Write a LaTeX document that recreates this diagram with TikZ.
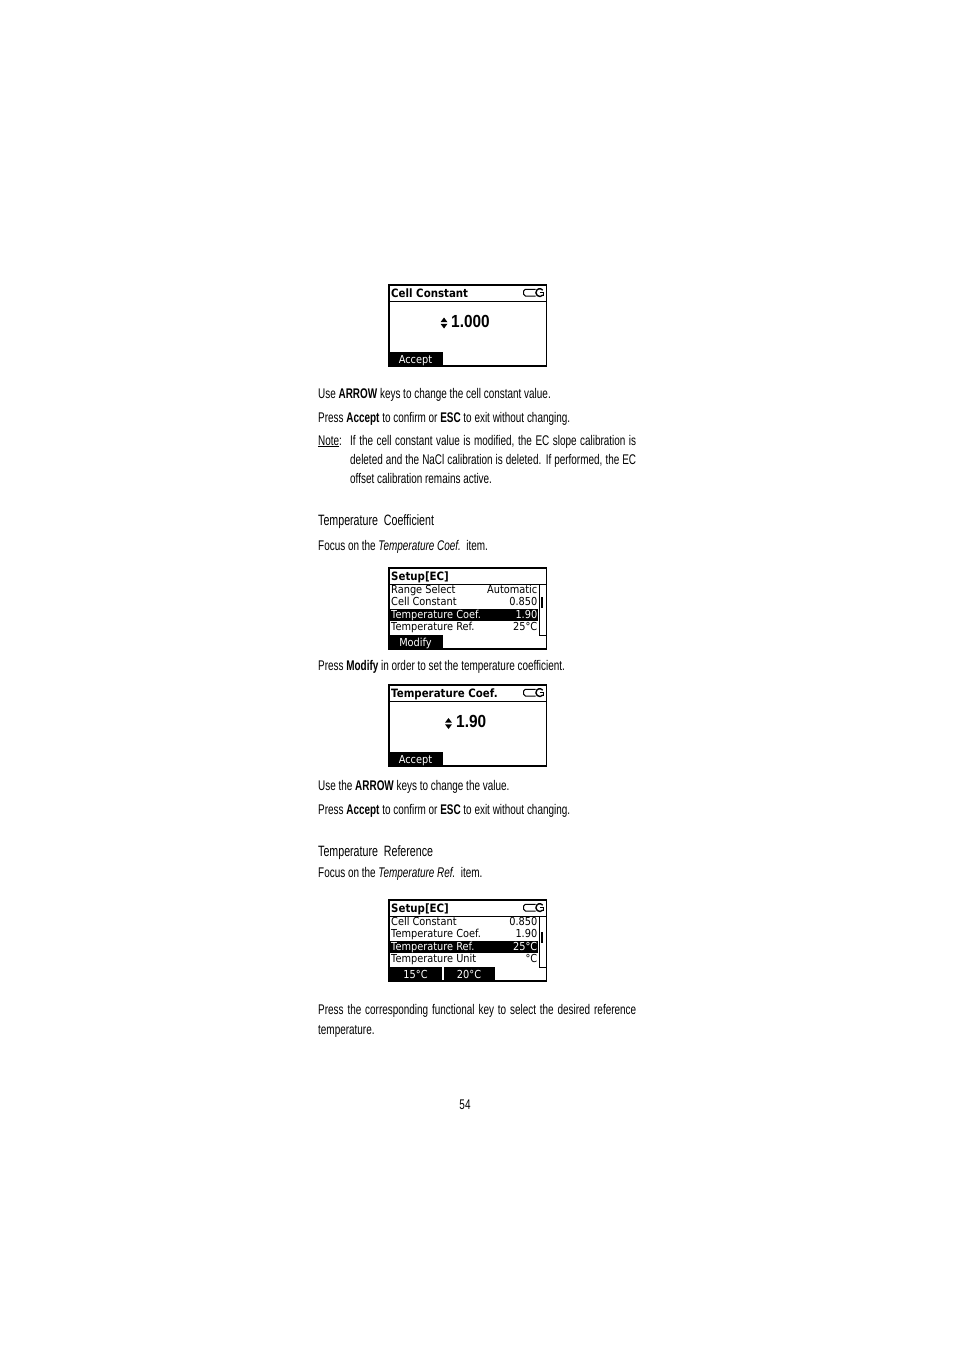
\documentclass[tikz,border=0pt]{standalone}
\usepackage{fontspec}
\setmainfont{Liberation Sans}[FakeStretch=0.71]
\newfontfamily\lcdfont{DejaVu Sans}[FakeStretch=0.89]
\newfontfamily\valfont{Liberation Sans}[FakeStretch=0.88]

\newcommand{\lcdframe}[2]{
	\pgfmathsetmacro{\LFtop}{#2}
	\pgfmathsetmacro{\LFsep}{#2+16}
	\pgfmathsetmacro{\LFbot}{#2+81}
	\draw[lcdline] (389,\LFtop) rectangle (546.5,\LFbot);
	\draw[line width=1pt] (389,\LFsep) -- (546.5,\LFsep);
	\coordinate (#1) at (389,\LFtop);
}

\newcommand{\plugicon}[1]{
	\pgfmathsetmacro{\PIa}{#1+4.3}
	\pgfmathsetmacro{\PIb}{#1+11}
	\pgfmathsetmacro{\PIc}{#1+7.6}
	\draw[line width=1pt, rounded corners=1.8pt] (535.5,\PIa) -- (523.5,\PIa) -- (523.5,\PIb) -- (535.5,\PIb);
	\draw[line width=1.4pt] (539.8,\PIc) ++(40:3.9) arc (40:320:3.9);
	\draw[line width=1.4pt] (539.8,\PIc) -- (543.4,\PIc) -- (543.4,\PIb);
}

\newcommand{\updn}[2]{
	\pgfmathsetmacro{\UDxa}{#1}
	\pgfmathsetmacro{\UDxb}{#1+7}
	\pgfmathsetmacro{\UDxc}{#1+3.5}
	\pgfmathsetmacro{\UDya}{#2-0.8}
	\pgfmathsetmacro{\UDyb}{#2+0.8}
	\fill (\UDxa,\UDya) -- (\UDxb,\UDya) -- (\UDxc,#2-5.5) -- cycle;
	\fill (\UDxa,\UDyb) -- (\UDxb,\UDyb) -- (\UDxc,#2+5.5) -- cycle;
}

\newcommand{\lcdscroll}[2]{
	\draw[line width=0.9pt] (539,#1+16) -- (539,#1+67) -- (546,#1+67);
	\fill (540.8,#2) rectangle (543.4,#2+11);
}

\tikzset{
	bodytext/.style={anchor=base west, inner sep=0pt, font=\fontsize{14}{19}\selectfont},
	headtext/.style={anchor=base west, inner sep=0pt, font=\fontsize{15}{19}\selectfont},
	lcdtitle/.style={anchor=base west, inner sep=0pt, font=\lcdfont\bfseries\fontsize{11.5}{12}\selectfont},
	lcdrow/.style={anchor=base west, inner sep=0pt, font=\lcdfont\fontsize{11}{12}\selectfont},
	lcdnum/.style={lcdrow, anchor=base east},
	tabtext/.style={anchor=base, inner sep=0pt, text=white, font=\lcdfont\fontsize{11}{12}\selectfont},
	bigval/.style={anchor=base west, inner sep=0pt, font=\valfont\bfseries\fontsize{17.5}{20}\selectfont},
	lcdline/.style={line width=1.9pt},
}

\begin{document}
\begin{tikzpicture}[x=1pt, y=-1pt]
\fill[white] (0,0) rectangle (954,1351);
\useasboundingbox (0,0) rectangle (954,1351);

% screen: cell constant
\fill (389,352) rectangle (443,366);
\lcdframe{scrA}{285}
\plugicon{285}
\node[lcdtitle] (scrAtitle) at (391,297) {Cell Constant};
\node[bigval] (scrAval) at (451,327) {1.000};
\updn{440.5}{323}
\node[tabtext] (scrAtab) at (415.5,363) {Accept};

\node[bodytext] (useA) at (318,398) {Use \textbf{ARROW} keys to change the cell constant value.};
\node[bodytext] (pressA) at (318,422) {Press \textbf{Accept} to confirm or \textbf{ESC} to exit without changing.};
\node[bodytext] (note) at (318,445) {\underline{Note}:};
\node[bodytext] (noteA) at (350,445) {\makebox[286pt][s]{If the cell constant value is modified, the EC slope calibration is}};
\node[bodytext] (noteB) at (350,464) {\makebox[286pt][s]{deleted and the NaCl calibration is deleted. If performed, the EC}};
\node[bodytext] (noteC) at (350,483) {offset calibration remains active.};

\node[headtext] (headA) at (318,525) {Temperature\ \ Coefficient};
\node[bodytext] (focusA) at (318,550) {Focus on the \textit{Temperature Coef.}\ \ item.};

% screen: setup, coefficient selected
\fill (389,609) rectangle (537.5,621);
\fill (389,635) rectangle (443,649);
\lcdframe{scrB}{568}
\lcdscroll{568}{597}
\node[lcdtitle] (scrBtitle) at (391,580) {Setup[EC]};
\node[lcdrow] (scrBa) at (391,593) {Range Select};
\node[lcdnum] (scrBav) at (537.5,593) {Automatic};
\node[lcdrow] (scrBb) at (391,605.5) {Cell Constant};
\node[lcdnum] (scrBbv) at (537.5,605.5) {0.850};
\node[lcdrow, text=white] (scrBc) at (391,618) {Temperature Coef.};
\node[lcdnum, text=white] (scrBcv) at (537.5,618) {1.90};
\node[lcdrow] (scrBd) at (391,630.5) {Temperature Ref.};
\node[lcdnum] (scrBdv) at (537.5,630.5) {25°C};
\node[tabtext] (scrBtab) at (415.5,646) {Modify};

\node[bodytext] (pressB) at (318,670) {Press \textbf{Modify} in order to set the temperature coefficient.};

% screen: temperature coefficient
\fill (389,752) rectangle (443,766);
\lcdframe{scrC}{685}
\plugicon{685}
\node[lcdtitle] (scrCtitle) at (391,697) {Temperature Coef.};
\node[bigval] (scrCval) at (456,727.5) {1.90};
\updn{445}{723.5}
\node[tabtext] (scrCtab) at (415.5,763) {Accept};

\node[bodytext] (useC) at (318,790) {Use the \textbf{ARROW} keys to change the value.};
\node[bodytext] (pressC) at (318,814) {Press \textbf{Accept} to confirm or \textbf{ESC} to exit without changing.};

\node[headtext] (headB) at (318,856) {Temperature\ \ Reference};
\node[bodytext] (focusB) at (318,877) {Focus on the \textit{Temperature Ref.}\ \ item.};

% screen: setup, reference selected
\fill (389,941) rectangle (537.5,953);
\fill (389,967) rectangle (442,981);
\fill (443.5,967) rectangle (495,981);
\lcdframe{scrD}{900}
\plugicon{900}
\lcdscroll{900}{932}
\node[lcdtitle] (scrDtitle) at (391,912) {Setup[EC]};
\node[lcdrow] (scrDa) at (391,925) {Cell Constant};
\node[lcdnum] (scrDav) at (537.5,925) {0.850};
\node[lcdrow] (scrDb) at (391,937.5) {Temperature Coef.};
\node[lcdnum] (scrDbv) at (537.5,937.5) {1.90};
\node[lcdrow, text=white] (scrDc) at (391,950) {Temperature Ref.};
\node[lcdnum, text=white] (scrDcv) at (537.5,950) {25°C};
\node[lcdrow] (scrDd) at (391,962.5) {Temperature Unit};
\node[lcdnum] (scrDdv) at (537.5,962.5) {°C};
\node[tabtext] (scrDtabA) at (415.5,978) {15°C};
\node[tabtext] (scrDtabB) at (469,978) {20°C};

\node[bodytext] (pressD) at (318,1014) {\makebox[318pt][s]{Press the corresponding functional key to select the desired reference}};
\node[bodytext] (pressE) at (318,1034) {temperature.};

\node[bodytext, anchor=base] (page) at (465,1109) {54};
\end{tikzpicture}
\end{document}
